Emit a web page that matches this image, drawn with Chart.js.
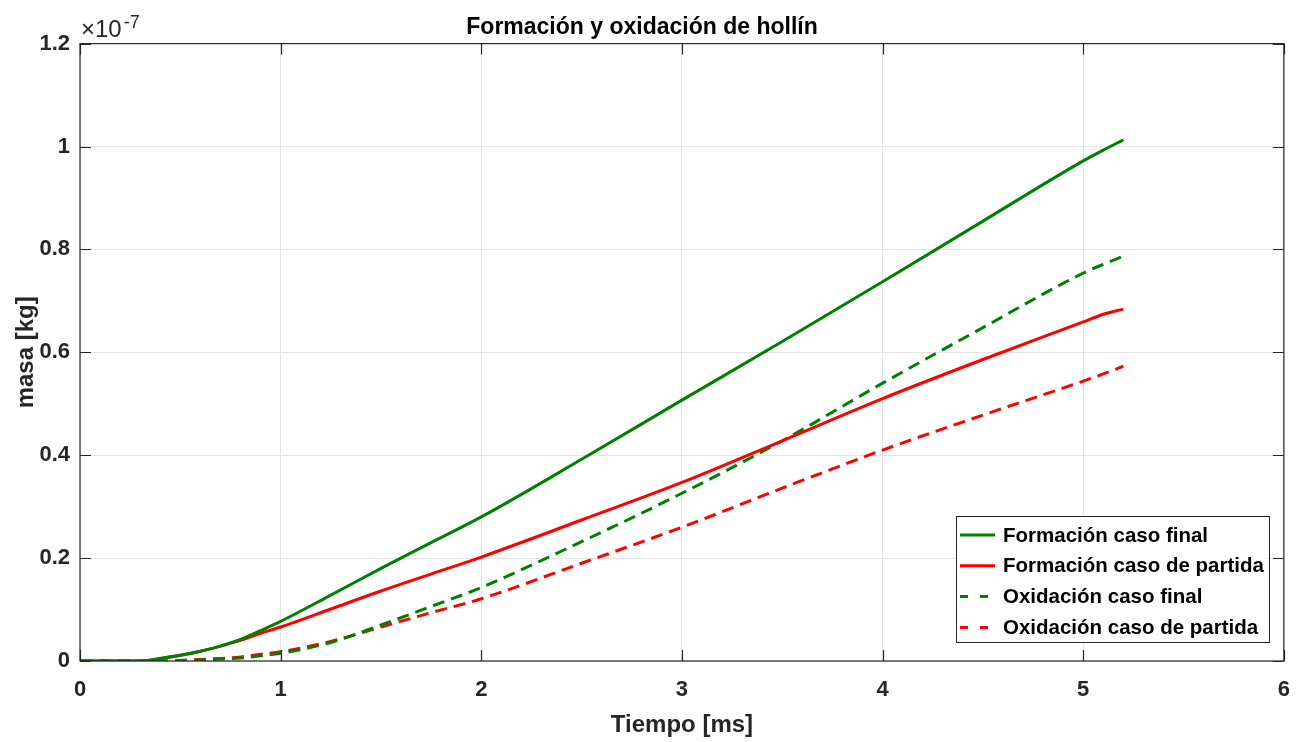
<!DOCTYPE html>
<html>
<head>
<meta charset="utf-8">
<script src="https://cdn.jsdelivr.net/npm/chart.js@4/dist/chart.umd.min.js"></script>
<style>
  html, body { margin: 0; padding: 0; background: #ffffff; }
  #wrap { width: 1304px; height: 742px; }
</style>
</head>
<body>
<div id="wrap"><canvas id="c" width="1304" height="742"></canvas></div>
<script>
// ---- Data (masa in units of 1e-7 kg) ----
const tiempo = [0, 0.2, 0.3, 0.4, 0.5, 0.6, 0.7, 0.8, 0.9, 1.0, 1.25, 1.5, 1.75, 2.0, 2.5, 3.0, 3.5, 4.0, 4.5, 5.0, 5.1, 5.2];
const formacionFinal   = [0, 0, 0, 0.005, 0.011, 0.019, 0.029, 0.042, 0.059, 0.077, 0.128, 0.180, 0.230, 0.280, 0.392, 0.507, 0.621, 0.737, 0.855, 0.972, 0.993, 1.013];
const formacionPartida = [0, 0, 0, 0.005, 0.011, 0.019, 0.029, 0.040, 0.054, 0.066, 0.101, 0.136, 0.169, 0.202, 0.274, 0.347, 0.428, 0.510, 0.586, 0.659, 0.674, 0.684];
const oxidacionFinal   = [0, 0, 0, 0, 0.001, 0.002, 0.004, 0.006, 0.010, 0.015, 0.036, 0.070, 0.106, 0.143, 0.232, 0.326, 0.428, 0.540, 0.648, 0.754, 0.771, 0.787];
const oxidacionPartida = [0, 0, 0, 0, 0.001, 0.003, 0.005, 0.008, 0.013, 0.018, 0.038, 0.066, 0.094, 0.121, 0.190, 0.260, 0.336, 0.410, 0.478, 0.544, 0.558, 0.573];

const seriesLabels = ['Formación caso final', 'Formación caso de partida', 'Oxidación caso final', 'Oxidación caso de partida'];
const xTickLabels = ['0', '1', '2', '3', '4', '5', '6'];
const yTickLabels = ['0', '0.2', '0.4', '0.6', '0.8', '1', '1.2'];

const GREEN = '#008000';
const RED = '#ff0000';
const AXIS = '#262626';
const FONT = "'Liberation Sans', Arial, Helvetica, sans-serif";

function pts(ys) { return tiempo.map((t, i) => ({ x: t, y: ys[i] })); }

const datasets = [
  { label: seriesLabels[0], data: pts(formacionFinal),   borderColor: GREEN, borderDash: [] },
  { label: seriesLabels[1], data: pts(formacionPartida), borderColor: RED,   borderDash: [] },
  { label: seriesLabels[2], data: pts(oxidacionFinal),   borderColor: GREEN, borderDash: [12, 7] },
  { label: seriesLabels[3], data: pts(oxidacionPartida), borderColor: RED,   borderDash: [12, 7] }
].map(d => Object.assign(d, {
  borderWidth: 3, pointRadius: 0, fill: false, cubicInterpolationMode: 'monotone'
}));

const boxPlugin = {
  id: 'boxPlugin',
  afterDraw(chart) {
    const ctx = chart.ctx;
    const a = chart.chartArea;
    const xs = chart.scales.x, ys = chart.scales.y;
    ctx.save();
    // box
    ctx.strokeStyle = AXIS;
    ctx.lineWidth = 1.2;
    ctx.strokeRect(a.left, a.top, a.right - a.left, a.bottom - a.top);
    // inward ticks
    ctx.beginPath();
    xs.ticks.forEach(t => {
      const px = Math.round(xs.getPixelForValue(t.value)) + 0.5;
      ctx.moveTo(px, a.bottom); ctx.lineTo(px, a.bottom - 11);
      ctx.moveTo(px, a.top); ctx.lineTo(px, a.top + 11);
    });
    ys.ticks.forEach(t => {
      const py = Math.round(ys.getPixelForValue(t.value)) + 0.5;
      ctx.moveTo(a.left, py); ctx.lineTo(a.left + 11, py);
      ctx.moveTo(a.right, py); ctx.lineTo(a.right - 11, py);
    });
    ctx.stroke();
    // exponent label
    ctx.fillStyle = AXIS;
    ctx.textBaseline = 'alphabetic';
    ctx.textAlign = 'left';
    ctx.font = "24px " + FONT;
    ctx.fillText('×10', 81, 37);
    const w = ctx.measureText('×10').width;
    ctx.font = "18px " + FONT;
    ctx.fillText('-7', 81 + w + 2, 28);
    // legend
    const lx = 956, ly = 516, lw = 313, lh = 126;
    ctx.fillStyle = '#ffffff';
    ctx.fillRect(lx, ly, lw, lh);
    ctx.strokeStyle = AXIS;
    ctx.lineWidth = 1;
    ctx.strokeRect(lx + 0.5, ly + 0.5, lw, lh);
    ctx.font = "bold 20.5px " + FONT;
    ctx.textBaseline = 'middle';
    chart.data.datasets.forEach((d, i) => {
      const cy = 535 + i * 30.8;
      ctx.strokeStyle = d.borderColor;
      ctx.lineWidth = 3;
      ctx.setLineDash(d.borderDash.length ? [8, 12] : []);
      ctx.beginPath();
      ctx.moveTo(960, cy); ctx.lineTo(995, cy);
      ctx.stroke();
      ctx.setLineDash([]);
      ctx.fillStyle = '#000000';
      ctx.fillText(d.label, 1003, cy + 1);
    });
    ctx.restore();
  }
};

new Chart(document.getElementById('c'), {
  type: 'line',
  data: { datasets },
  options: {
    responsive: false,
    animation: false,
    layout: { padding: { top: 0, right: 20, left: 0, bottom: 0 } },
    plugins: {
      legend: { display: false },
      tooltip: { enabled: false },
      title: {
        display: true,
        text: 'Formación y oxidación de hollín',
        color: '#000000',
        font: { family: FONT, size: 23, weight: 'bold' },
        padding: { top: 14, bottom: 2 }
      }
    },
    scales: {
      x: {
        type: 'linear',
        min: 0, max: 6,
        afterFit(s) { s.height = 81; },
        ticks: {
          stepSize: 1,
          padding: 14,
          color: AXIS,
          font: { family: FONT, size: 22, weight: 'bold' },
          callback: (v, i) => xTickLabels[i]
        },
        grid: { color: '#e4e4e4', lineWidth: 1, drawTicks: true, tickLength: 2, tickColor: 'rgba(0,0,0,0)' },
        border: { display: false },
        title: {
          display: true,
          text: 'Tiempo [ms]',
          color: AXIS,
          font: { family: FONT, size: 24, weight: 'bold' },
          padding: { top: 0, bottom: 2 }
        }
      },
      y: {
        type: 'linear',
        min: 0, max: 1.2,
        afterFit(s) { s.width = 80; },
        ticks: {
          stepSize: 0.2,
          padding: 10,
          color: AXIS,
          font: { family: FONT, size: 22, weight: 'bold' },
          callback: (v, i) => yTickLabels[i]
        },
        grid: { color: '#e4e4e4', lineWidth: 1, drawTicks: false },
        border: { display: false },
        title: {
          display: true,
          text: 'masa [kg]',
          color: AXIS,
          font: { family: FONT, size: 24, weight: 'bold' },
          padding: { top: 12, bottom: 0 }
        }
      }
    }
  },
  plugins: [boxPlugin]
});
</script>
</body>
</html>
